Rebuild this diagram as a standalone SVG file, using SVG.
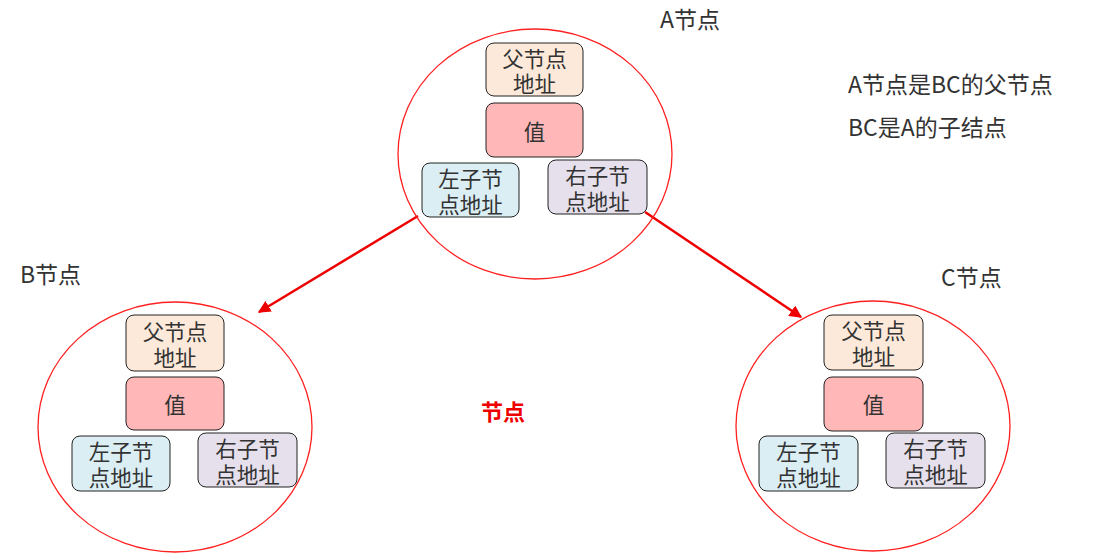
<svg xmlns="http://www.w3.org/2000/svg" width="1100" height="553" viewBox="0 0 1100 553">
<defs>
<style>
text{font-family:"Noto Sans CJK SC","Microsoft YaHei",sans-serif;fill:#333;font-size:23px;}
.c{text-anchor:middle;dominant-baseline:central;font-size:21.5px;}
.ring{fill:none;stroke:#ff2020;stroke-width:1.3;}
.box{stroke:#222;stroke-width:1;}
.p{fill:#fde9d9;}
.v{fill:#ffb7b7;}
.l{fill:#daeef3;}
.r{fill:#e6e0ec;}
.arr{stroke:#ee0000;stroke-width:2.5;fill:none;marker-end:url(#ah);}
.red{fill:#ee0000;font-weight:bold;font-size:22px;}
</style>
<marker id="ah" viewBox="0 0 10 10" refX="9" refY="5" markerWidth="5" markerHeight="5" orient="auto" markerUnits="strokeWidth">
<path d="M0,0 L10,5 L0,10 z" fill="#ee0000"/>
</marker>
</defs>
<rect width="1100" height="553" fill="#fff"/>
<g id="connectors">
<line class="arr" x1="418" y1="216" x2="259" y2="312"/>
<line class="arr" x1="645" y1="212" x2="801" y2="317"/>
</g>
<g id="nodeA">
<ellipse class="ring" cx="535" cy="154" rx="137" ry="125"/>
<rect class="box p" x="486" y="43" width="97" height="53" rx="8"/>
<text class="c" x="534.5" y="57">父节点</text><text class="c" x="534.5" y="82">地址</text>
<rect class="box v" x="486" y="103" width="97" height="54" rx="8"/>
<text class="c" x="534.5" y="130">值</text>
<rect class="box l" x="422" y="163" width="97" height="54" rx="8"/>
<text class="c" x="470.5" y="177">左子节</text><text class="c" x="470.5" y="203">点地址</text>
<rect class="box r" x="548" y="160" width="99" height="54" rx="8"/>
<text class="c" x="597.5" y="174">右子节</text><text class="c" x="597.5" y="200">点地址</text>
</g>
<g id="nodeB">
<ellipse class="ring" cx="175" cy="427" rx="137" ry="125"/>
<rect class="box p" x="126" y="315" width="98" height="56" rx="8"/>
<text class="c" x="175" y="330">父节点</text><text class="c" x="175" y="356">地址</text>
<rect class="box v" x="126" y="377" width="98" height="53" rx="8"/>
<text class="c" x="175" y="403">值</text>
<rect class="box l" x="72" y="436" width="98" height="55" rx="8"/>
<text class="c" x="121" y="450">左子节</text><text class="c" x="121" y="476">点地址</text>
<rect class="box r" x="198" y="433" width="99" height="54" rx="8"/>
<text class="c" x="247.5" y="447">右子节</text><text class="c" x="247.5" y="473">点地址</text>
</g>
<g id="nodeC">
<ellipse class="ring" cx="873" cy="426" rx="137" ry="125"/>
<rect class="box p" x="824" y="315" width="99" height="55" rx="8"/>
<text class="c" x="873.5" y="329">父节点</text><text class="c" x="873.5" y="355">地址</text>
<rect class="box v" x="824" y="377" width="99" height="54" rx="8"/>
<text class="c" x="873.5" y="403">值</text>
<rect class="box l" x="759" y="436" width="99" height="55" rx="8"/>
<text class="c" x="808.5" y="450">左子节</text><text class="c" x="808.5" y="476">点地址</text>
<rect class="box r" x="886" y="433" width="99" height="55" rx="8"/>
<text class="c" x="935.5" y="447">右子节</text><text class="c" x="935.5" y="473">点地址</text>
</g>
<g id="labels">
<text x="660" y="18" dominant-baseline="central">A节点</text>
<text x="20" y="273" dominant-baseline="central">B节点</text>
<text x="941" y="276" dominant-baseline="central">C节点</text>
<text x="848" y="83" dominant-baseline="central">A节点是BC的父节点</text>
<text x="848" y="126" dominant-baseline="central">BC是A的子结点</text>
<text class="red" x="481" y="410" dominant-baseline="central">节点</text>
</g>
</svg>
